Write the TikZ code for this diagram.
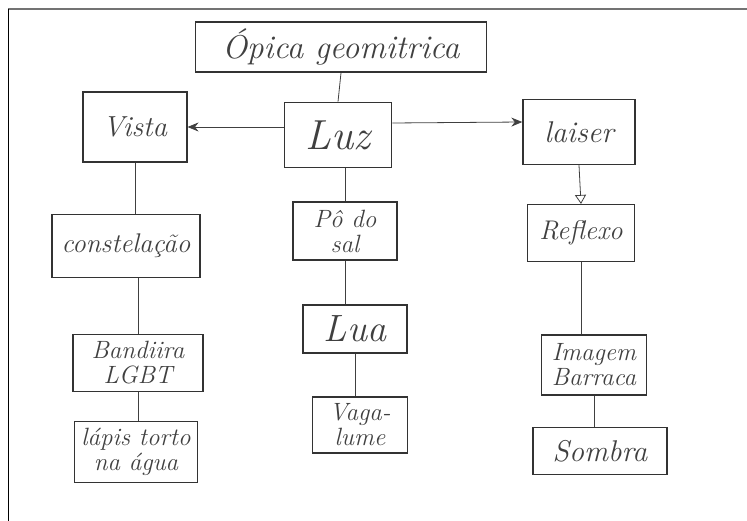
\documentclass[tikz,border=0pt]{standalone}
\usepackage{fontspec}
\usetikzlibrary{arrows.meta}
\tikzset{
  hand/.style={font=\fontsize{#1}{#1}\selectfont\itshape},
  box/.style={draw=black!80, line width=1.1pt, inner sep=0pt, align=center,
    hand=25, text=black!75},
  link/.style={draw=black!75, line width=0.8pt}
}
\begin{document}
\begin{tikzpicture}[x=1pt, y=-1pt]
    \useasboundingbox (0,0) rectangle (747,521);
    % Frame
    \draw[black!55, line width=1.2pt] (8,9) -- (747,9);
    \draw[black, line width=0.9pt] (8,9) -- (8,521);

    % Title
    \node[box, line width=1.6pt, minimum width=291pt, minimum height=50pt, hand=33] (title) at (341,47) {Ópica geomitrica};

    % Row 1
    \node[box, minimum width=104pt, minimum height=70pt, hand=29] (vista) at (135,127) {Vista};
    \node[box, line width=1.6pt, minimum width=107pt, minimum height=65pt, hand=42] (luz) at (338,135) {Luz};
    \node[box, line width=1.4pt, minimum width=112pt, minimum height=65pt, hand=30] (laiser) at (579,132) {laiser};

    % Left column
    \node[box, minimum width=148pt, minimum height=63pt, hand=27] (const) at (126,246) {constelação};
    \node[box, minimum width=130pt, minimum height=57pt] (bandeira) at (138,363) {Bandiira\\LGBT};
    \node[box, minimum width=123pt, minimum height=61pt] (lapis) at (136,452) {lápis torto\\na água};

    % Middle column
    \node[box, minimum width=104pt, minimum height=58pt] (po) at (345,231) {Pô do\\sal};
    \node[box, minimum width=104pt, minimum height=48pt, hand=38] (lua) at (355,329) {Lua};
    \node[box, minimum width=95pt, minimum height=56pt] (vaga) at (360,425) {Vaga-\\lume};

    % Right column
    \node[box, minimum width=107pt, minimum height=57pt, hand=27] (reflexo) at (581,233) {Reflexo};
    \node[box, minimum width=105pt, minimum height=60pt] (imagem) at (594,365) {Imagem\\Barraca};
    \node[box, minimum width=134pt, minimum height=47pt, hand=30] (sombra) at (600,451) {Sombra};

    % Links
    \draw[link] (title.south) -- (luz.north);
    \draw[link, -{Stealth[length=11pt, width=9pt]}] (luz.west |- vista.east) -- (vista.east);
    \draw[link, -{Stealth[length=11pt, width=9pt]}] ([yshift=12pt]luz.east) -- ([yshift=10pt]laiser.west);
    \draw[link, -{Triangle[open, length=9pt, width=11pt]}] (laiser.south) -- (reflexo.north);
    \draw[link] (vista.south) -- (vista.south |- const.north);
    \draw[link] (const.south -| bandeira.north) -- (bandeira.north);
    \draw[link] (bandeira.south) -- (lapis.north -| bandeira.south);
    \draw[link] (luz.south -| po.north) -- (po.north);
    \draw[link] (po.south) -- (po.south |- lua.north);
    \draw[link] (lua.south) -- (lua.south |- vaga.north);
    \draw[link] (reflexo.south) -- (reflexo.south |- imagem.north);
    \draw[link] (imagem.south) -- (imagem.south |- sombra.north);
\end{tikzpicture}
\end{document}
